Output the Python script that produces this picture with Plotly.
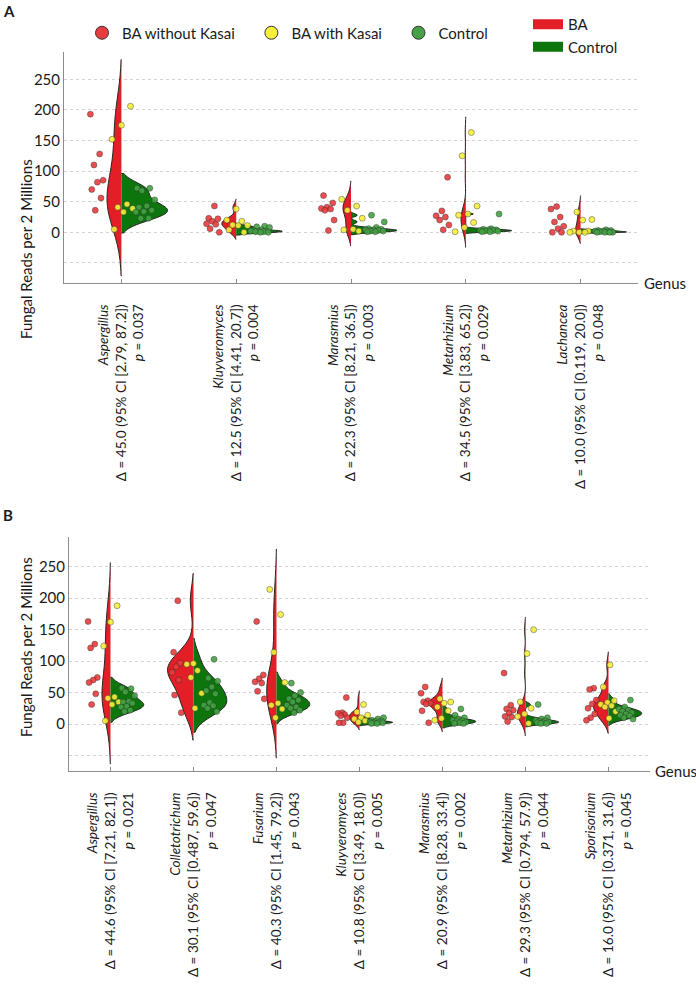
import plotly.graph_objects as go

# ---------------- Panel A data ----------------
A_genus = ["Aspergillus", "Kluyveromyces", "Marasmius", "Metarhizium", "Lachancea"]
A_delta = ["45.0", "12.5", "22.3", "34.5", "10.0"]
A_ci_lo = ["2.79", "4.41", "8.21", "3.83", "0.119"]
A_ci_hi = ["87.2", "20.7", "36.5", "65.2", "20.0"]
A_p = ["0.037", "0.004", "0.003", "0.029", "0.048"]
A_red = [
    [193, 128, 110, 85, 82, 70, 56, 36],
    [43, 23, 22, 18, 14, 13, 6, 0],
    [60, 48, 41, 39, 38, 36, 20, 3],
    [90, 35, 27, 25, 20, 12, 4],
    [42, 38, 25, 17, 10, 6, 0, 0],
]
A_yellow = [
    [206, 175, 152, 46, 41, 39, 33, 5],
    [38, 20, 18, 12, 11, 11, 4, 0],
    [54, 43, 36, 23, 5, 4, 2],
    [163, 125, 43, 30, 28, 16, 8, 1],
    [33, 21, 20, 2, 2, 0, 0, 0],
]
A_green = [
    [72, 72, 68, 53, 43, 41, 36, 34, 33, 23, 23],
    [10, 9, 8, 4, 3, 2, 2, 2, 1, 1, 0, 0],
    [28, 17, 8, 6, 5, 4, 4, 3, 2, 2, 1, 1],
    [30, 6, 5, 4, 4, 3, 3, 2, 2, 1, 1],
    [4, 3, 3, 2, 2, 1, 1, 0, 0, 0, 0],
]

# ---------------- Panel B data ----------------
B_genus = ["Aspergillus", "Colletotrichum", "Fusarium", "Kluyveromyces",
           "Marasmius", "Metarhizium", "Sporisorium"]
B_delta = ["44.6", "30.1", "40.3", "10.8", "20.9", "29.3", "16.0"]
B_ci_lo = ["7.21", "0.487", "1.45", "3.49", "8.28", "0.794", "0.371"]
B_ci_hi = ["82.1", "59.6", "79.2", "18.0", "33.4", "57.9", "31.6"]
B_p = ["0.021", "0.047", "0.043", "0.005", "0.002", "0.044", "0.045"]
B_red = [
    [163, 127, 121, 74, 70, 66, 48, 31],
    [196, 114, 97, 91, 82, 70, 46, 18],
    [163, 78, 72, 67, 65, 52, 40],
    [42, 18, 17, 15, 13, 10, 2, 2],
    [59, 49, 37, 35, 33, 32, 21, 2],
    [81, 30, 24, 22, 17, 12, 11, 4],
    [57, 55, 38, 32, 25, 16, 10, 6],
]
B_yellow = [
    [188, 162, 124, 43, 41, 35, 31, 5],
    [96, 95, 85, 74, 49, 25],
    [214, 174, 114, 66, 33, 30, 24, 10],
    [31, 19, 14, 10, 8, 5, 3],
    [40, 35, 33, 27, 21, 9, 6],
    [150, 112, 35, 25, 16, 12, 1],
    [94, 59, 37, 34, 31, 29, 27, 20, 9],
]
B_green = [
    [57, 56, 51, 45, 36, 35, 33, 28, 27, 22, 20],
    [103, 73, 68, 59, 53, 48, 34, 30, 29, 25, 20],
    [65, 50, 45, 40, 38, 35, 30, 27, 25, 22, 18],
    [10, 8, 6, 5, 4, 3, 3, 2, 2, 1, 1],
    [24, 14, 10, 8, 6, 5, 4, 3, 2, 1, 1],
    [31, 10, 8, 6, 5, 4, 3, 2, 2, 1, 1],
    [38, 27, 24, 22, 20, 18, 16, 14, 13, 10, 8],
]

Y_TICKS = [-50, 0, 50, 100, 150, 200, 250]
Y_TICKTEXT = ["", "0", "50", "100", "150", "200", "250"]

POINT_LEGEND = ["BA without Kasai", "BA with Kasai", "Control"]
VIOLIN_LEGEND = ["BA", "Control"]

# ---------------- styles ----------------
FONT = "Lato"
RED_V = "#E31E26"
GREEN_V = "#0C760C"
RED_P = "#EA3B3E"
YEL_P = "#F6F03C"
GRN_P = "#44A244"
W, H = 696, 988


def jitter(n, lo, hi, seed):
    return [lo + (hi - lo) * (((k + seed) * 0.6180339887) % 1.0) for k in range(n)]


def ticklabels(genus, delta, lo, hi, p):
    return [f"<i>{g}</i><br>\u0394 = {d} (95% CI [{a}, {b}])<br><i>p</i> = {q}"
            for g, d, a, b, q in zip(genus, delta, lo, hi, p)]


fig = go.Figure()


def add_panel(xa, ya, reds, yels, grns, tag):
    n = len(reds)
    for i in range(n):
        ba = reds[i] + yels[i]
        common = dict(xaxis=xa, yaxis=ya, scalegroup=f"{tag}{i}", scalemode="width",
                      spanmode="soft", points=False, hoverinfo="skip",
                      line=dict(color="#262626", width=1), showlegend=False)
        fig.add_trace(go.Violin(x=[i] * len(ba), y=ba, side="negative",
                                fillcolor=RED_V, **common))
        fig.add_trace(go.Violin(x=[i] * len(grns[i]), y=grns[i], side="positive",
                                fillcolor=GREEN_V, **common))
    groups = [(reds, RED_P, -0.27, -0.14, 0), (yels, YEL_P, -0.10, 0.11, 3),
              (grns, GRN_P, 0.12, 0.30, 5)]
    for vals, col, lo, hi, sd in groups:
        xs, ys = [], []
        for i in range(n):
            offs = jitter(len(vals[i]), lo, hi, sd + i)
            xs += [i + o for o in offs]
            ys += vals[i]
        fig.add_trace(go.Scatter(x=xs, y=ys, mode="markers", xaxis=xa, yaxis=ya,
                                 marker=dict(color=col, size=6, opacity=0.9,
                                             line=dict(color="rgba(40,40,40,0.75)", width=0.6)),
                                 hoverinfo="skip", showlegend=False))


add_panel("x", "y", A_red, A_yellow, A_green, "A")
add_panel("x2", "y2", B_red, B_yellow, B_green, "B")

# legend-only traces
PAD = "\u00a0\u00a0\u00a0"
for name, col in zip(POINT_LEGEND, [RED_P, YEL_P, GRN_P]):
    fig.add_trace(go.Scatter(x=[None], y=[None], mode="markers", name=name + PAD,
                             marker=dict(color=col, size=13, line=dict(color="#333", width=1)),
                             legend="legend", showlegend=True))
for name, col in zip(VIOLIN_LEGEND, [RED_V, GREEN_V]):
    fig.add_trace(go.Scatter(x=[None], y=[None], mode="lines", name=name,
                             line=dict(color=col, width=11),
                             legend="legend2", showlegend=True))


def px_x(v):
    return v / W


def px_y(v):
    return 1 - v / H


xcommon = dict(showgrid=False, showline=True, linecolor="#8c8c8c", linewidth=1,
               ticks="inside", ticklen=4, tickcolor="#8c8c8c", tickangle=-90,
               tickfont=dict(family=FONT, size=13.6, color="#1a1a1a"),
               ticklabelstandoff=15, zeroline=False, fixedrange=True)
ycommon = dict(showgrid=True, gridcolor="#d4d4d4", griddash="dot", gridwidth=1,
               showline=True, linecolor="#8c8c8c", linewidth=1, ticks="",
               tickvals=Y_TICKS, ticktext=Y_TICKTEXT, zeroline=False,
               tickfont=dict(family=FONT, size=15, color="#1a1a1a"), fixedrange=True)

fig.update_layout(
    width=W, height=H, margin=dict(l=0, r=0, t=0, b=0),
    paper_bgcolor="white", plot_bgcolor="white",
    violinmode="overlay", violingap=0.2, violingroupgap=0,
    font=dict(family=FONT, color="#1a1a1a"),
    xaxis=dict(domain=[px_x(64), px_x(638)], anchor="y", range=[-0.5, 4.5],
               tickvals=list(range(len(A_genus))),
               ticktext=ticklabels(A_genus, A_delta, A_ci_lo, A_ci_hi, A_p), **xcommon),
    yaxis=dict(domain=[px_y(283), px_y(52)], anchor="x", range=[-82.8, 294.6], **ycommon),
    xaxis2=dict(domain=[px_x(69), px_x(650)], anchor="y2", range=[-0.5, 6.5],
                tickvals=list(range(len(B_genus))),
                ticktext=ticklabels(B_genus, B_delta, B_ci_lo, B_ci_hi, B_p), **xcommon),
    yaxis2=dict(domain=[px_y(771), px_y(537)], anchor="x2", range=[-74.7, 297.3], **ycommon),
    legend=dict(orientation="h", x=px_x(82), y=px_y(33), xanchor="left", yanchor="middle",
                font=dict(family=FONT, size=15, color="#1a1a1a"), bgcolor="rgba(0,0,0,0)"),
    legend2=dict(orientation="v", x=px_x(528), y=px_y(8), xanchor="left", yanchor="top",
                 font=dict(family=FONT, size=15, color="#1a1a1a"), bgcolor="rgba(0,0,0,0)"),
    annotations=[
        dict(text="<b>A</b>", x=px_x(1), y=px_y(0), xref="paper", yref="paper",
             xanchor="left", yanchor="top", showarrow=False, font=dict(family=FONT, size=15)),
        dict(text="<b>B</b>", x=px_x(1), y=px_y(504), xref="paper", yref="paper",
             xanchor="left", yanchor="top", showarrow=False, font=dict(family=FONT, size=15)),
        dict(text="Fungal Reads per 2 Millions", x=px_x(15), y=px_y(157), xref="paper",
             yref="paper", textangle=-90, showarrow=False, font=dict(family=FONT, size=15)),
        dict(text="Fungal Reads per 2 Millions", x=px_x(15), y=px_y(647), xref="paper",
             yref="paper", textangle=-90, showarrow=False, font=dict(family=FONT, size=15)),
        dict(text="Genus", x=px_x(642), y=px_y(283), xref="paper", yref="paper",
             xanchor="left", yanchor="middle", showarrow=False, font=dict(family=FONT, size=15)),
        dict(text="Genus", x=px_x(653), y=px_y(771), xref="paper", yref="paper",
             xanchor="left", yanchor="middle", showarrow=False, font=dict(family=FONT, size=15)),
    ],
)

fig.write_html("out.html")
